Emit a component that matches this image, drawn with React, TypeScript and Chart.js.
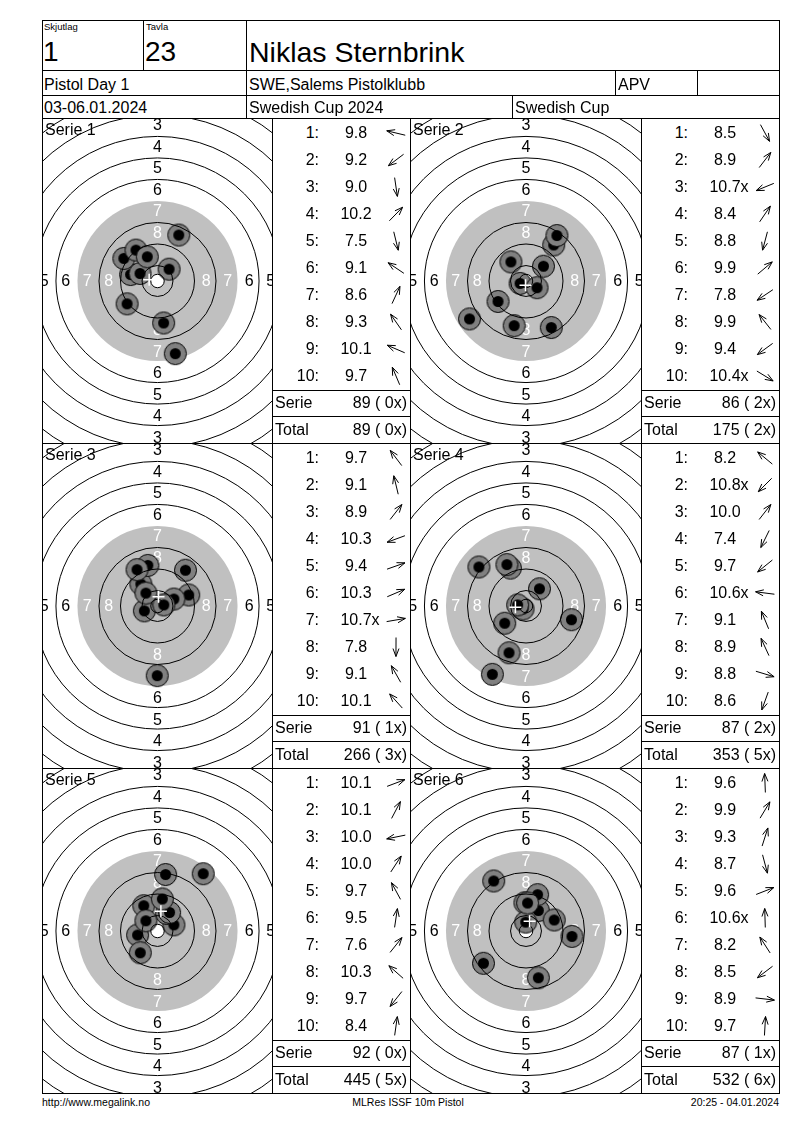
import React, { useEffect, useRef } from "react";
import { Chart, registerables } from "chart.js";

Chart.register(...registerables);

const FONT = "'Liberation Sans', Arial, Helvetica, sans-serif";

// ---------- header / footer texts ----------
const relayLabel = "Skjutlag";
const laneLabel = "Tavla";
const relay = "1";
const lane = "23";
const shooterName = "Niklas Sternbrink";
const eventName = "Pistol Day 1";
const clubName = "SWE,Salems Pistolklubb";
const classCode = "APV";
const dateText = "03-06.01.2024";
const competition = "Swedish Cup 2024";
const cupName = "Swedish Cup";
const footerLeft = "http://www.megalink.no";
const footerCenter = "MLRes ISSF 10m Pistol";
const footerRight = "20:25 - 04.01.2024";
const serieWord = "Serie";
const totalWord = "Total";

const serieLabels = ["Serie 1", "Serie 2", "Serie 3", "Serie 4", "Serie 5", "Serie 6"];

// ---------- decimal scores ----------
const scores1 = [9.8, 9.2, 9.0, 10.2, 7.5, 9.1, 8.6, 9.3, 10.1, 9.7];
const scores2 = [8.5, 8.9, 10.7, 8.4, 8.8, 9.9, 7.8, 9.9, 9.4, 10.4];
const scores3 = [9.7, 9.1, 8.9, 10.3, 9.4, 10.3, 10.7, 7.8, 9.1, 10.1];
const scores4 = [8.2, 10.8, 10.0, 7.4, 9.7, 10.6, 9.1, 8.9, 8.8, 8.6];
const scores5 = [10.1, 10.1, 10.0, 10.0, 9.7, 9.5, 7.6, 10.3, 9.7, 8.4];
const scores6 = [9.6, 9.9, 9.3, 8.7, 9.6, 10.6, 8.2, 8.5, 8.9, 9.7];

// ---------- inner ten flags ----------
const inner1 = [false, false, false, false, false, false, false, false, false, false];
const inner2 = [false, false, true, false, false, false, false, false, false, true];
const inner3 = [false, false, false, false, false, false, true, false, false, false];
const inner4 = [false, true, false, false, false, true, false, false, false, false];
const inner5 = [false, false, false, false, false, false, false, false, false, false];
const inner6 = [false, false, false, false, false, true, false, false, false, false];

// ---------- shot positions (mm from centre, x right, y up) ----------
const shotX1 = [-10.0, -11.3, 2.3, 4.3, 6.6, -12.5, 7.9, -8.0, -6.5, -3.8];
const shotY1 = [2.4, -8.5, -15.6, 4.4, -27.0, 8.4, 17.1, 11.5, 2.8, 9.0];
const shotX2 = [9.4, 10.3, -2.2, 11.5, -4.4, 6.5, -21.0, -5.6, -10.4, 4.1];
const shotY2 = [-17.3, 13.4, -0.9, 16.9, -16.6, 5.5, -14.1, 7.1, -7.6, -2.5];
const shotX3 = [-6.2, -3.6, 10.4, -4.9, 11.6, 6.1, 2.35, -0.1, -7.6, -4.3];
const shotY3 = [8.2, 15.1, 13.3, -1.8, 4.1, 2.6, 0.4, -25.9, 13.5, 4.8];
const shotX4 = [-17.5, -1.1, 5.0, -12.5, -7.9, -3.1, -5.8, -7.1, 16.9, -6.3];
const shotY4 = [14.5, -1.1, 6.4, -25.4, -6.4, 0.4, 14.1, 15.4, -5.1, -17.4];
const shotX5 = [6.1, 3.4, -7.4, 4.5, -5.1, 1.8, 17.0, -4.3, -6.4, 3.0];
const shotY5 = [2.3, 6.5, -1.5, 6.9, 9.4, 11.9, 21.3, 3.8, -8.1, 21.0];
const shotX6 = [-0.4, 4.6, 4.3, 4.6, 10.5, -0.1, -12.0, -15.8, 17.1, 0.6];
const shotY6 = [10.5, 7.6, 13.5, -17.4, 4.1, 3.3, 18.6, -12.0, -2.0, 10.4];

// ---------- ISSF 10m pistol target geometry (mm radii of rings 1..10) ----------
const RING_RADII = [77.75, 69.75, 61.75, 53.75, 45.75, 37.75, 29.75, 21.75, 13.75, 5.75];
const INNER_TEN = 2.5;
const BLACK_RING = 7;
const LABELED_RINGS = [1, 2, 3, 4, 5, 6, 7, 8];

const series = [
  { label: serieLabels[0], scores: scores1, inner: inner1, xs: shotX1, ys: shotY1 },
  { label: serieLabels[1], scores: scores2, inner: inner2, xs: shotX2, ys: shotY2 },
  { label: serieLabels[2], scores: scores3, inner: inner3, xs: shotX3, ys: shotY3 },
  { label: serieLabels[3], scores: scores4, inner: inner4, xs: shotX4, ys: shotY4 },
  { label: serieLabels[4], scores: scores5, inner: inner5, xs: shotX5, ys: shotY5 },
  { label: serieLabels[5], scores: scores6, inner: inner6, xs: shotX6, ys: shotY6 },
];

// ---------- layout ----------
const PX_PER_MM = 2.69;
const LEFT = 42;
const RIGHT = 779;
const TOP = 20;
const BOTTOM = 1093;
const PANEL_TOPS = [118, 443, 768];
const PANEL_H = 325;
const COLS = [
  { tx: 42, tableX: 272, tableR: 410 },
  { tx: 410, tableX: 641, tableR: 779 },
];

const targetPlugin = {
  id: "target",
  beforeDatasetsDraw(chart: any, _args: any, opts: any) {
    const { ctx } = chart;
    const xs = chart.scales.x;
    const ys = chart.scales.y;
    const cx = xs.getPixelForValue(0);
    const cy = ys.getPixelForValue(0);
    const k = xs.getPixelForValue(1) - cx;
    ctx.save();
    ctx.fillStyle = "#ffffff";
    ctx.fillRect(0, 0, chart.width, chart.height);
    // aiming mark
    ctx.fillStyle = "#c0c0c0";
    ctx.beginPath();
    ctx.arc(cx, cy, RING_RADII[BLACK_RING - 1] * k, 0, Math.PI * 2);
    ctx.fill();
    ctx.fillStyle = "#ffffff";
    ctx.beginPath();
    ctx.arc(cx, cy, INNER_TEN * k, 0, Math.PI * 2);
    ctx.fill();
    // ring numbers
    ctx.font = `16px ${FONT}`;
    ctx.textAlign = "center";
    ctx.textBaseline = "middle";
    LABELED_RINGS.forEach((n) => {
      const r = ((RING_RADII[n - 1] + RING_RADII[n]) / 2) * k + 1;
      ctx.fillStyle = n >= BLACK_RING ? "#ffffff" : "#000000";
      const t = String(n);
      ctx.fillText(t, cx, cy - r + 1);
      ctx.fillText(t, cx, cy + r + 1);
      ctx.fillText(t, cx - r, cy + 1);
      ctx.fillText(t, cx + r, cy + 1);
    });
    // serie label
    ctx.fillStyle = "#000000";
    ctx.textAlign = "left";
    ctx.textBaseline = "alphabetic";
    ctx.fillText(opts.label, 2, 16);
    ctx.restore();
  },
  afterDatasetDraw(chart: any, args: any) {
    if (args.index !== 1) return;
    const { ctx } = chart;
    const xs = chart.scales.x;
    const ys = chart.scales.y;
    const cx = xs.getPixelForValue(0);
    const cy = ys.getPixelForValue(0);
    const k = xs.getPixelForValue(1) - cx;
    ctx.save();
    ctx.strokeStyle = "#000000";
    ctx.lineWidth = 1;
    const radii = RING_RADII.filter((_, i) => i !== BLACK_RING - 1).concat([INNER_TEN]);
    radii.forEach((r) => {
      ctx.beginPath();
      ctx.arc(cx, cy, r * k, 0, Math.PI * 2);
      ctx.stroke();
    });
    ctx.restore();
  },
};

function makeShotImage() {
  const c = document.createElement("canvas");
  c.width = 25;
  c.height = 25;
  const g = c.getContext("2d")!;
  g.beginPath();
  g.arc(12.5, 12.5, 11, 0, Math.PI * 2);
  g.fillStyle = "#808080";
  g.fill();
  g.lineWidth = 1;
  g.strokeStyle = "#000000";
  g.stroke();
  g.beginPath();
  g.arc(12.5, 12.5, 5.5, 0, Math.PI * 2);
  g.fillStyle = "#000000";
  g.fill();
  return c;
}

function Target(props: { label: string; xs: number[]; ys: number[]; left: number; top: number; width: number; height: number }) {
  const { label, xs, ys, left, top, width, height } = props;
  const ref = useRef<HTMLCanvasElement>(null);
  useEffect(() => {
    const canvas = ref.current!;
    const pts = xs.map((x, i) => ({ x, y: ys[i] }));
    const mx = xs.reduce((a, b) => a + b, 0) / xs.length;
    const my = ys.reduce((a, b) => a + b, 0) / ys.length;
    const xMax = width / 2 / PX_PER_MM;
    const yMax = height / 2 / PX_PER_MM;
    const chart = new Chart(canvas, {
      type: "scatter",
      data: {
        datasets: [
          {
            data: [{ x: mx, y: my }],
            pointStyle: "cross",
            pointRadius: 6,
            borderColor: "#ffffff",
            backgroundColor: "#ffffff",
            borderWidth: 1.5,
            order: 0,
          } as any,
          {
            data: pts,
            pointStyle: makeShotImage() as any,
            pointRadius: 11,
            order: 1,
          } as any,
        ],
      },
      options: {
        responsive: false,
        maintainAspectRatio: false,
        animation: false,
        events: [],
        layout: { padding: 0, autoPadding: false } as any,
        scales: {
          x: { type: "linear", min: -xMax, max: xMax, display: false },
          y: { type: "linear", min: -yMax, max: yMax, display: false },
        },
        plugins: {
          legend: { display: false },
          tooltip: { enabled: false },
          target: { label },
        } as any,
      },
      plugins: [targetPlugin as any],
    });
    return () => chart.destroy();
  }, []);
  return (
    <canvas
      ref={ref}
      width={width}
      height={height}
      style={{ position: "absolute", left, top, width, height }}
    />
  );
}

function HL({ x1, x2, y }: { x1: number; x2: number; y: number }) {
  return <div style={{ position: "absolute", left: x1, top: y, width: x2 - x1 + 1, height: 1, background: "#000" }} />;
}
function VL({ x, y1, y2 }: { x: number; y1: number; y2: number }) {
  return <div style={{ position: "absolute", left: x, top: y1, width: 1, height: y2 - y1 + 1, background: "#000" }} />;
}

function Txt(props: { x: number; y: number; size: number; align?: "left" | "right" | "center"; children: any }) {
  const { x, y, size, align = "left", children } = props;
  const base: any = {
    position: "absolute",
    top: y - size / 2,
    height: size,
    lineHeight: `${size}px`,
    fontSize: size,
    whiteSpace: "nowrap",
  };
  if (align === "left") base.left = x;
  else if (align === "right") {
    base.right = 800 - x;
    base.textAlign = "right";
  } else {
    base.left = x - 150;
    base.width = 300;
    base.textAlign = "center";
  }
  return <div style={base}>{children}</div>;
}

function Arrow({ cx, cy, dx, dy }: { cx: number; cy: number; dx: number; dy: number }) {
  const a = Math.atan2(dy, dx);
  const c = 14;
  const L = 9.5;
  const tx = c + L * Math.cos(a);
  const ty = c - L * Math.sin(a);
  const bx = c - L * Math.cos(a);
  const by = c + L * Math.sin(a);
  const hl = 8.5;
  const ha = 0.36;
  const h1x = tx - hl * Math.cos(a - ha);
  const h1y = ty + hl * Math.sin(a - ha);
  const h2x = tx - hl * Math.cos(a + ha);
  const h2y = ty + hl * Math.sin(a + ha);
  return (
    <svg width={28} height={28} style={{ position: "absolute", left: cx - c, top: cy - c }}>
      <path
        d={`M${bx},${by} L${tx},${ty} M${h1x},${h1y} L${tx},${ty} L${h2x},${h2y}`}
        stroke="#000"
        strokeWidth={1}
        fill="none"
      />
    </svg>
  );
}

export default function App() {
  const serieTotals = series.map((s) => s.scores.reduce((a, v) => a + Math.floor(v + 1e-9), 0));
  const serieX = series.map((s) => s.inner.filter(Boolean).length);
  const cumTotals = serieTotals.map((_, i) => serieTotals.slice(0, i + 1).reduce((a, b) => a + b, 0));
  const cumX = serieX.map((_, i) => serieX.slice(0, i + 1).reduce((a, b) => a + b, 0));

  const panels: any[] = [];
  series.forEach((s, idx) => {
    const row = Math.floor(idx / 2);
    const col = COLS[idx % 2];
    const T = PANEL_TOPS[row];
    const tl = col.tableX;
    panels.push(
      <Target
        key={`t${idx}`}
        label={s.label}
        xs={s.xs}
        ys={s.ys}
        left={col.tx + 1}
        top={T + 1}
        width={col.tableX - col.tx - 1}
        height={PANEL_H - 1}
      />
    );
    s.scores.forEach((v, i) => {
      const cy = T + 14.5 + 27 * i;
      panels.push(
        <Txt key={`n${idx}-${i}`} x={tl + 47} y={cy} size={16} align="right">
          {`${i + 1}:`}
        </Txt>
      );
      panels.push(
        <Txt key={`v${idx}-${i}`} x={tl + 84} y={cy} size={16} align="center">
          <span style={{ position: "relative" }}>
            {v.toFixed(1)}
            {s.inner[i] ? <span style={{ position: "absolute", left: "100%" }}>x</span> : null}
          </span>
        </Txt>
      );
      panels.push(<Arrow key={`a${idx}-${i}`} cx={tl + 124} cy={cy} dx={s.xs[i]} dy={s.ys[i]} />);
    });
    panels.push(<HL key={`sl${idx}`} x1={tl} x2={col.tableR} y={T + 272} />);
    panels.push(<HL key={`tl${idx}`} x1={tl} x2={col.tableR} y={T + 298} />);
    panels.push(
      <Txt key={`sw${idx}`} x={tl + 3} y={T + 285} size={16}>
        {serieWord}
      </Txt>
    );
    panels.push(
      <Txt key={`sv${idx}`} x={col.tableR - 3} y={T + 285} size={16} align="right">
        {`${serieTotals[idx]} ( ${serieX[idx]}x)`}
      </Txt>
    );
    panels.push(
      <Txt key={`tw${idx}`} x={tl + 3} y={T + 311.5} size={16}>
        {totalWord}
      </Txt>
    );
    panels.push(
      <Txt key={`tv${idx}`} x={col.tableR - 3} y={T + 311.5} size={16} align="right">
        {`${cumTotals[idx]} ( ${cumX[idx]}x)`}
      </Txt>
    );
  });

  return (
    <div
      style={{
        position: "absolute",
        left: 0,
        top: 0,
        width: 800,
        height: 1130,
        background: "#fff",
        fontFamily: FONT,
        color: "#000",
        overflow: "hidden",
      }}
    >
      {panels}
      {/* header texts */}
      <Txt x={44} y={27} size={9.5}>{relayLabel}</Txt>
      <Txt x={146} y={27} size={9.5}>{laneLabel}</Txt>
      <Txt x={43} y={52} size={28}>{relay}</Txt>
      <Txt x={145} y={52} size={28}>{lane}</Txt>
      <Txt x={249} y={52} size={28.5}>{shooterName}</Txt>
      <Txt x={44} y={84.5} size={16}>{eventName}</Txt>
      <Txt x={249} y={84.5} size={16}>{clubName}</Txt>
      <Txt x={618} y={84.5} size={16}>{classCode}</Txt>
      <Txt x={44} y={108} size={16}>{dateText}</Txt>
      <Txt x={249} y={108} size={16}>{competition}</Txt>
      <Txt x={515} y={108} size={16}>{cupName}</Txt>
      {/* footer */}
      <Txt x={42} y={1102} size={10.5}>{footerLeft}</Txt>
      <Txt x={408} y={1102} size={10.5} align="center">{footerCenter}</Txt>
      <Txt x={779} y={1102} size={10.5} align="right">{footerRight}</Txt>
      {/* grid lines */}
      <HL x1={LEFT} x2={RIGHT} y={TOP} />
      <HL x1={LEFT} x2={RIGHT} y={70} />
      <HL x1={LEFT} x2={RIGHT} y={95} />
      <HL x1={LEFT} x2={RIGHT} y={PANEL_TOPS[0]} />
      <HL x1={LEFT} x2={RIGHT} y={PANEL_TOPS[1]} />
      <HL x1={LEFT} x2={RIGHT} y={PANEL_TOPS[2]} />
      <HL x1={LEFT} x2={RIGHT} y={BOTTOM} />
      <VL x={LEFT} y1={TOP} y2={BOTTOM} />
      <VL x={RIGHT} y1={TOP} y2={BOTTOM} />
      <VL x={143} y1={TOP} y2={70} />
      <VL x={246} y1={TOP} y2={PANEL_TOPS[0]} />
      <VL x={615} y1={70} y2={95} />
      <VL x={697} y1={70} y2={95} />
      <VL x={512} y1={95} y2={PANEL_TOPS[0]} />
      <VL x={COLS[0].tableX} y1={PANEL_TOPS[0]} y2={BOTTOM} />
      <VL x={COLS[1].tx} y1={PANEL_TOPS[0]} y2={BOTTOM} />
      <VL x={COLS[1].tableX} y1={PANEL_TOPS[0]} y2={BOTTOM} />
    </div>
  );
}
